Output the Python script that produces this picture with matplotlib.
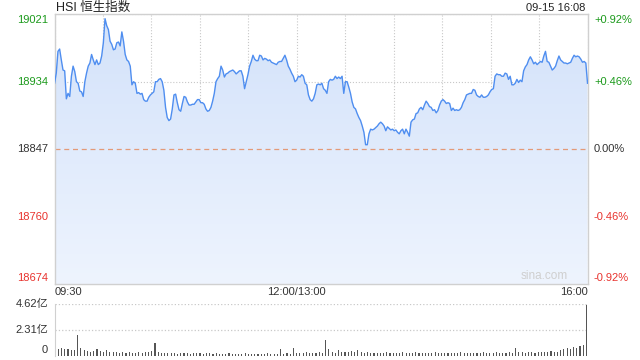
import numpy as np
import matplotlib
matplotlib.use("Agg")
import matplotlib.pyplot as plt
from matplotlib.colors import LinearSegmentedColormap

plt.rcParams['font.family'] = ['Liberation Sans', 'Noto Sans CJK SC', 'DejaVu Sans']

# HSI intraday, ~1 min samples from 09:30 to 16:00 (330 trading minutes)
prev_close = 18847
price = [
    18932, 18945, 18973, 18976, 18962, 18949, 18948, 18912, 18919, 18915,
    18941, 18954, 18947, 18934, 18932, 18922, 18921, 18915, 18934, 18945,
    18954, 18958, 18969, 18962, 18956, 18962, 18956, 18958, 18967, 18984,
    19015, 19006, 19001, 18986, 18982, 18975, 18976, 18984, 18985, 18980,
    18998, 18986, 18969, 18962, 18960, 18954, 18930, 18934, 18932, 18919,
    18920, 18918, 18919, 18911, 18909, 18909, 18914, 18917, 18919, 18921,
    18934, 18934, 18937, 18938, 18934, 18923, 18901, 18888, 18884, 18886,
    18899, 18917, 18918, 18907, 18898, 18896, 18906, 18915, 18914, 18908,
    18904, 18904, 18905, 18905, 18908, 18911, 18911, 18907, 18907, 18905,
    18899, 18896, 18897, 18901, 18909, 18919, 18934, 18938, 18941, 18954,
    18949, 18940, 18944, 18945, 18947, 18948, 18949, 18947, 18944, 18946,
    18948, 18948, 18941, 18925, 18934, 18943, 18954, 18960, 18968, 18963,
    18961, 18961, 18968, 18967, 18962, 18964, 18963, 18961, 18962, 18959,
    18958, 18957, 18956, 18959, 18960, 18960, 18964, 18968, 18962, 18954,
    18950, 18945, 18941, 18934, 18936, 18941, 18940, 18943, 18941, 18932,
    18930, 18917, 18911, 18909, 18912, 18919, 18930, 18931, 18930, 18932,
    18925, 18923, 18919,
    # afternoon
    18934, 18937, 18936, 18937, 18941, 18938, 18940, 18938, 18941, 18919,
    18934, 18934, 18927, 18919, 18908, 18901, 18899, 18893, 18888, 18884,
    18877, 18869, 18853, 18853, 18867, 18873, 18872, 18873, 18875, 18877,
    18880, 18882, 18880, 18877, 18871, 18876, 18874, 18872, 18873, 18871,
    18872, 18869, 18867, 18871, 18873, 18867, 18873, 18869, 18864, 18882,
    18885, 18886, 18893, 18894, 18899, 18901, 18898, 18904, 18909, 18906,
    18902, 18901, 18897, 18898, 18894, 18897, 18904, 18909, 18911, 18909,
    18906, 18907, 18906, 18897, 18900, 18897, 18898, 18897, 18898, 18901,
    18907, 18911, 18917, 18918, 18919, 18919, 18924, 18923, 18917, 18915,
    18914, 18917, 18914, 18914, 18915, 18917, 18921, 18924, 18925, 18941,
    18944, 18943, 18943, 18941, 18941, 18945, 18944, 18937, 18941, 18930,
    18930, 18932, 18937, 18933, 18936, 18934, 18948, 18953, 18956, 18962,
    18966, 18962, 18957, 18959, 18956, 18958, 18960, 18959, 18967, 18973,
    18960, 18959, 18954, 18949, 18951, 18954, 18961, 18967, 18962, 18960,
    18958, 18958, 18957, 18958, 18959, 18964, 18968, 18966, 18967, 18966,
    18963, 18959, 18960, 18958, 18932,
]

# volume in 亿, one bar per 2 minutes
volume = [
    2.70, 0.65, 0.70, 0.60, 0.65, 0.55, 0.50, 1.85, 0.70, 0.55,
    0.45, 0.40, 0.45, 0.60, 0.45, 0.40, 0.50, 0.35, 0.40, 0.35,
    0.30, 0.35, 0.30, 0.40, 0.30, 0.25, 0.35, 0.30, 0.40, 0.35,
    0.45, 1.15, 0.40, 0.30, 0.25, 0.30, 0.25, 0.30, 0.20, 0.25,
    0.30, 0.25, 0.20, 0.30, 0.25, 0.30, 0.20, 0.25, 0.30, 0.20,
    0.25, 0.20, 0.15, 0.20, 0.25, 0.15, 0.20, 0.15, 0.20, 0.25,
    0.15, 0.20, 0.15, 0.20, 0.15, 0.20, 0.25, 0.20, 0.15, 0.20,
    0.60, 0.20, 0.25, 0.20, 0.75, 0.30, 0.25, 0.30, 0.35, 0.30,
    0.25, 0.30, 0.35, 0.30, 1.40, 0.60, 0.35, 0.30, 0.55, 0.35,
    0.40, 0.35, 0.45, 0.40, 0.50, 0.35, 0.30, 0.35, 0.30, 0.25,
    0.30, 0.25, 0.30, 0.35, 0.25, 0.30, 0.25, 0.30, 0.35, 0.25,
    0.30, 0.25, 0.35, 0.30, 0.25, 0.30, 0.25, 0.30, 0.35, 0.30,
    0.25, 0.30, 0.25, 0.30, 0.25, 0.30, 0.35, 0.25, 0.30, 0.25,
    0.30, 0.25, 0.30, 0.35, 0.30, 0.25, 0.30, 0.35, 0.30, 0.25,
    0.30, 0.35, 0.30, 0.75, 0.35, 0.40, 0.30, 0.35, 0.40, 0.30,
    0.35, 0.40, 0.35, 0.40, 0.45, 0.40, 0.35, 0.55, 0.60, 0.70,
    0.65, 0.80, 0.70, 0.85, 1.00, 4.50,
]

left_ticks = [18674, 18760, 18847, 18934, 19021]
right_ticks = ['-0.92%', '-0.46%', '0.00%', '+0.46%', '+0.92%']
tick_colors = ['#e8332e', '#e8332e', '#333333', '#1c9a1c', '#1c9a1c']
vol_ticks = [0, 2.31, 4.62]
vol_labels = ['0', '2.31亿', '4.62亿']
time_labels = ['09:30', '12:00/13:00', '16:00']

fig = plt.figure(figsize=(6.4, 3.6), dpi=100)
ax = fig.add_axes([0.0853, 0.2111, 0.8327, 0.75])
vax = fig.add_axes([0.0853, 0.0111, 0.8327, 0.1445])

x = np.linspace(0, 330, len(price))
ymin, ymax = left_ticks[0], left_ticks[-1]

# gradient fill under the line
cmap = LinearSegmentedColormap.from_list('fill', ['#eef4fe', '#d3e2fa'])
grad = np.linspace(0, 1, 256).reshape(-1, 1)
poly = ax.fill_between(x, price, ymin, color='none', lw=0)
img = ax.imshow(grad, cmap=cmap, aspect='auto', origin='lower',
                extent=[0, 330, ymin, ymax], zorder=1)
img.set_clip_path(poly.get_paths()[0], transform=ax.transData)
ax.plot(x, price, color='#4f8ef0', lw=1.0, zorder=3)

ax.axhline(prev_close, color='#e39a78', lw=0.9, ls=(0, (4, 3)), zorder=2)
ax.set_xlim(0, 330)
ax.set_ylim(ymin, ymax)
ax.set_xticks(np.arange(0, 331, 30))
ax.set_yticks(left_ticks)
ax.grid(True, color='#c8c8c8', ls=':', lw=0.8, zorder=0)
ax.set_axisbelow(True)
ax.tick_params(length=0, labelbottom=False, labelleft=False)
for s in ax.spines.values():
    s.set_color('#d0d0d0')
    s.set_linewidth(1)

for i, (v, r, c) in enumerate(zip(left_ticks, right_ticks, tick_colors)):
    va = 'bottom' if i == 0 else ('top' if i == len(left_ticks) - 1 else 'center')
    off = 1.5 if i == 0 else (-1.5 if i == len(left_ticks) - 1 else 0)
    ax.text(-4, v + off, str(v), color=c, fontsize=8, ha='right', va=va)
    ax.text(334, v + off, r, color=c, fontsize=8, ha='left', va=va)

ax.text(0, 18674 - 3.5, time_labels[0], fontsize=8, color='#333333', ha='left', va='top')
ax.text(150, 18674 - 3.5, time_labels[1], fontsize=8, color='#333333', ha='center', va='top')
ax.text(330, 18674 - 3.5, time_labels[2], fontsize=8, color='#333333', ha='right', va='top')
ax.text(318, 18676, 'sina.com', fontsize=8.5, color='#cfcfcf', ha='right', va='bottom')

fig.text(0.0875, 0.978, 'HSI 恒生指数', fontsize=9, color='#222222', ha='left', va='center',
         family=['Liberation Sans', 'Noto Sans CJK SC'])
fig.text(0.914, 0.978, '09-15 16:08', fontsize=8, color='#222222', ha='right', va='center')

# volume bars
vx = np.arange(len(volume)) * 2
vax.bar(vx, volume, width=0.7, color='#555555', align='edge')
vax.set_xlim(0, 331)
vax.set_ylim(0, 4.62)
vax.set_yticks(vol_ticks[1:])
vax.yaxis.grid(True, color='#c8c8c8', ls=':', lw=0.9)
vax.set_axisbelow(True)
vax.tick_params(length=0, labelbottom=False, labelleft=False)
for k in ['top', 'right', 'bottom']:
    vax.spines[k].set_visible(False)
vax.spines['left'].set_color('#d0d0d0')
for v, lab in zip(vol_ticks, vol_labels):
    vax.text(-4, v + (0.5 if v == 0 else 0), lab, fontsize=8, color='#333333',
             ha='right', va='center', family=['Liberation Sans', 'Noto Sans CJK SC'])

fig.savefig('out.png', dpi=100)
